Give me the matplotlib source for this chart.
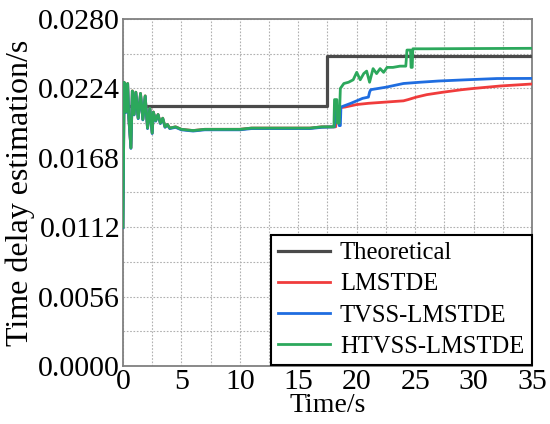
import matplotlib
matplotlib.use("Agg")
import matplotlib.pyplot as plt
from matplotlib.ticker import MultipleLocator, FormatStrFormatter
import numpy as np

# ---------------- data ----------------
labels = ["Theoretical", "LMSTDE", "TVSS-LMSTDE", "HTVSS-LMSTDE"]
colors = ["#4a4a4a", "#f03c3c", "#1f6de0", "#2ca85c"]

theo_t = [0.0, 17.5, 17.5, 35.0]
theo_v = [0.0210, 0.0210, 0.0250, 0.0250]

# common start-up transient (all adaptive estimators)
early_t = [0.0, 0.1, 0.25, 0.4, 0.5, 0.68, 0.8, 0.95, 1.1, 1.3, 1.5, 1.7, 1.9,
           2.1, 2.3, 2.5, 2.6, 2.8, 3.0, 3.2, 3.4, 3.6, 3.8, 4.0, 4.5, 5.0,
           6.0, 7.0, 8.0, 9.0, 10.0, 11.0, 12.0, 13.0, 14.0, 15.0, 16.0, 17.0, 18.0]
early_v = [0.0112, 0.0229, 0.0205, 0.0228, 0.0200, 0.0176, 0.0222, 0.0203, 0.0221,
           0.0200, 0.0220, 0.0199, 0.0218, 0.0192, 0.0208, 0.0188, 0.0205, 0.0198,
           0.0203, 0.0196, 0.0200, 0.0193, 0.0195, 0.0192, 0.0193, 0.0191,
           0.0190, 0.0191, 0.0191, 0.0191, 0.0191, 0.0192, 0.0192, 0.0192, 0.0192,
           0.0192, 0.0192, 0.0193, 0.0193]

lms_t = [18.2, 18.25, 19.0, 20.0, 21.0, 22.5, 24.0, 24.4, 25.1, 26.0, 27.4,
         29.0, 30.0, 32.3, 35.0]
lms_v = [0.0193, 0.0208, 0.0209, 0.0211, 0.0212, 0.0213, 0.0214, 0.0215, 0.0217,
         0.0219, 0.0221, 0.0223, 0.0224, 0.0226, 0.02276]

tvss_t = [18.1, 18.15, 18.45, 18.5, 18.6, 18.65, 19.5, 20.5, 21.0, 21.1, 21.2,
          22.5, 24.0, 25.4, 27.0, 29.4, 32.0, 35.0]
tvss_v = [0.0193, 0.0208, 0.0208, 0.0194, 0.0194, 0.0209, 0.0212, 0.0216, 0.0217,
          0.0221, 0.0223, 0.0225, 0.0228, 0.0229, 0.0230, 0.0231, 0.0232, 0.02321]

htvss_t = [18.05, 18.1, 18.3, 18.35, 18.5, 18.6, 18.9, 19.3, 19.7, 20.0, 20.3,
           20.6, 20.85, 21.1, 21.4, 21.7, 22.0, 22.3, 22.6, 23.1, 23.7, 24.2,
           24.3, 24.6, 24.65, 24.75, 24.8, 26.0, 30.0, 35.0]
htvss_v = [0.0193, 0.0215, 0.0215, 0.0196, 0.0196, 0.0224, 0.0228, 0.0229, 0.0231,
           0.0237, 0.0231, 0.0236, 0.0238, 0.0229, 0.0240, 0.0236, 0.0240, 0.0237,
           0.0241, 0.0241, 0.0242, 0.0242, 0.0255, 0.0255, 0.0241, 0.0241, 0.0256,
           0.0256, 0.02562, 0.02564]

xticks = [0, 5, 10, 15, 20, 25, 30, 35]
yticks = [0.0000, 0.0056, 0.0112, 0.0168, 0.0224, 0.0280]

# ---------------- plotting ----------------
plt.rcParams["font.family"] = ["Liberation Serif", "DejaVu Serif"]

fig = plt.figure(figsize=(5.5, 4.24), dpi=100)
ax = fig.add_axes([0.2236, 0.137, 0.7437, 0.818])

lms_full_t = early_t[:-1] + lms_t
lms_full_v = early_v[:-1] + lms_v
tvss_full_t = early_t[:-1] + tvss_t
tvss_full_v = [v - 0.00004 for v in early_v[:-1]] + tvss_v
htvss_full_t = early_t[:-1] + htvss_t
htvss_full_v = early_v[:-1] + htvss_v

ax.plot(theo_t, theo_v, color=colors[0], lw=2.3, label=labels[0], zorder=3)
ax.plot(lms_full_t, lms_full_v, color=colors[1], lw=2.0, label=labels[1], zorder=4)
ax.plot(tvss_full_t, tvss_full_v, color=colors[2], lw=2.0, label=labels[2], zorder=5)
ax.plot(htvss_full_t, htvss_full_v, color=colors[3], lw=2.0, label=labels[3], zorder=6)

ax.set_xlim(0, 35)
ax.set_ylim(0, 0.028)
ax.set_xticks(xticks)
ax.set_yticks(yticks)
ax.yaxis.set_major_formatter(FormatStrFormatter("%.4f"))
ax.xaxis.set_minor_locator(MultipleLocator(2.5))
ax.yaxis.set_minor_locator(MultipleLocator(0.0028))
ax.grid(True, which="both", color="#b0b0b0", linestyle=(0, (1.5, 1.5)), linewidth=0.8)
ax.set_axisbelow(True)
ax.tick_params(which="both", length=0, labelsize=21.5, pad=2)
for s in ax.spines.values():
    s.set_color("#808080")
    s.set_linewidth(1.3)

ax.set_xlabel("Time/s", fontsize=20, labelpad=-1)
ax.set_ylabel("Time delay estimation/s", fontsize=23, labelpad=2)

leg = ax.legend(loc="lower right", fontsize=17.7, handlelength=2.1, handletextpad=0.4,
                labelspacing=0.37, borderpad=0.3, borderaxespad=0.02,
                fancybox=False, framealpha=1.0, edgecolor="black")
leg.get_frame().set_linewidth(1.5)
leg.set_zorder(10)

fig.savefig("out.png", dpi=100)
